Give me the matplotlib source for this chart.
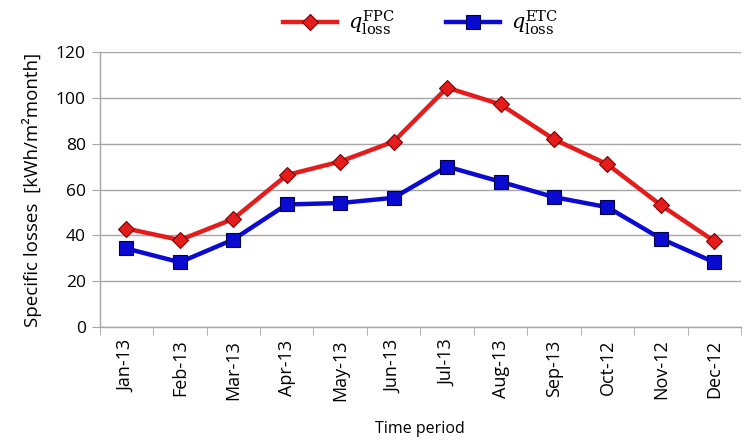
import matplotlib as mpl
mpl.use("Agg")
import matplotlib.pyplot as plt
import numpy as np

plt.rcParams.update({
    "font.family": "Open Sans",
    "mathtext.fontset": "dejavuserif",
})

months = ["Jan-13", "Feb-13", "Mar-13", "Apr-13", "May-13", "Jun-13",
          "Jul-13", "Aug-13", "Sep-13", "Oct-12", "Nov-12", "Dec-12"]
q_fpc = [43.0, 38.0, 47.2, 66.3, 72.2, 80.9, 104.4, 97.1, 81.9, 71.0, 53.2, 37.5]
q_etc = [34.3, 28.3, 38.2, 53.5, 54.1, 56.4, 70.0, 63.4, 56.7, 52.3, 38.6, 28.3]
yticks = [0, 20, 40, 60, 80, 100, 120]

fig = plt.figure(figsize=(7.44, 4.47), dpi=100)
ax = fig.add_axes([0.134, 0.268, 0.862, 0.616])

x = np.arange(len(months))
ax.plot(x, q_fpc, color="#e41c1c", lw=3.2, marker="D", ms=8.5,
        mfc="#e41c1c", mec="#7a0000", mew=0.8,
        label=r"$q_{\mathrm{loss}}^{\mathrm{FPC}}$", zorder=3)
ax.plot(x, q_etc, color="#0a0ad0", lw=3.2, marker="s", ms=10,
        mfc="#0a0ad0", mec="#000050", mew=0.8,
        label=r"$q_{\mathrm{loss}}^{\mathrm{ETC}}$", zorder=3)

ax.set_xlim(-0.5, len(months) - 0.5)
ax.set_ylim(0, 120)
ax.set_yticks(yticks)
ax.yaxis.grid(True, color="#a6a6a6", lw=1.0)
ax.set_axisbelow(True)

# category labels centred, tick marks at category boundaries
ax.set_xticks(x)
ax.set_xticklabels(months, rotation=90, fontsize=13)
ax.set_xticks(np.arange(-0.5, len(months), 1.0), minor=True)
ax.tick_params(axis="x", which="major", length=0, pad=9)
ax.tick_params(axis="x", which="minor", length=6, color="#a6a6a6", direction="out")
ax.tick_params(axis="y", length=6, color="#a6a6a6", labelsize=12.5, pad=4)

for side in ["top", "right"]:
    ax.spines[side].set_visible(False)
for side in ["left", "bottom"]:
    ax.spines[side].set_color("#a6a6a6")
    ax.spines[side].set_linewidth(1.0)

ax.set_xlabel("Time period", fontsize=11.5, labelpad=14)
ax.set_ylabel("Specific losses  [kWh/m\u00b2month]", fontsize=13.5, labelpad=10)

ax.legend(loc="lower center", bbox_to_anchor=(0.5, 0.985), ncol=2,
          frameon=False, fontsize=15, handlelength=2.6, columnspacing=2.5,
          handletextpad=0.5)

fig.savefig("out.png", dpi=100, facecolor="white")
